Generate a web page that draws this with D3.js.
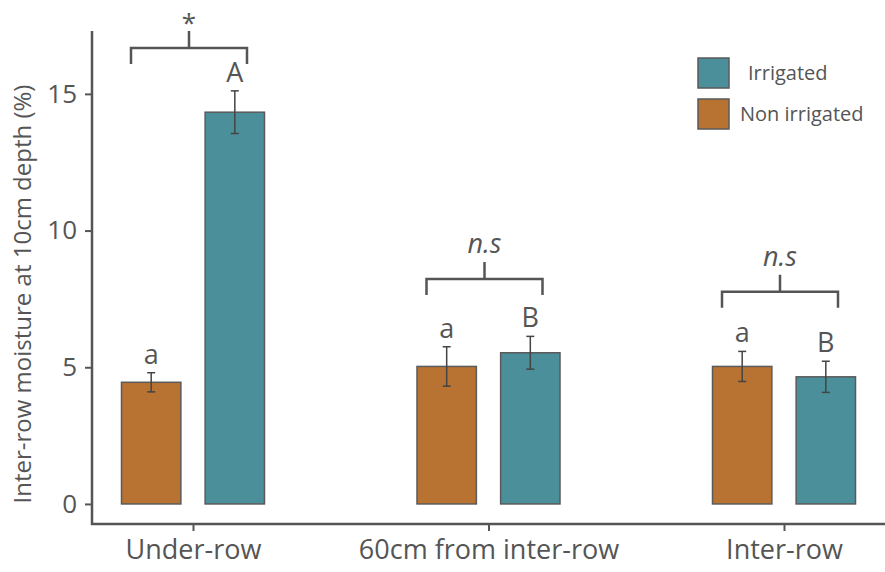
<!DOCTYPE html>
<html><head><meta charset="utf-8">
<script src="https://cdn.jsdelivr.net/npm/d3@7"></script>
<style>body{margin:0;background:#fff}svg{display:block}text{font-family:"Open Sans",sans-serif;fill:#555}</style>
</head><body><svg id="c" width="885" height="572"></svg>
<script>
const categories = ["Under-row", "60cm from inter-row", "Inter-row"];
const groups = ["Non irrigated", "Irrigated"];
const nonIrrigated = [4.45, 5.03, 5.03];
const nonIrrigatedErr = [0.35, 0.72, 0.55];
const irrigated = [14.33, 5.53, 4.65];
const irrigatedErr = [0.78, 0.6, 0.57];
const nonIrrigatedLetters = ["a", "a", "a"];
const irrigatedLetters = ["A", "B", "B"];
const significance = ["*", "n.s", "n.s"];
const bracketLevels = [16.68, 8.23, 7.76];
const yTicks = [0, 5, 10, 15];
const yTitle = "Inter-row moisture at 10cm depth (%)";
const colors = {"Non irrigated": "#B87333", "Irrigated": "#4A8F9A"};

const svg = d3.select("#c");
const stroke = "#555";
const y = d3.scaleLinear().domain([-0.77, 17.3]).range([525, 31]);
const x = d3.scalePoint().domain(categories).range([193, 784]);
const xs = d3.scaleBand().domain(groups).range([-71.5, 71.5]).paddingInner(0.29);

const series = {
  "Non irrigated": {v: nonIrrigated, e: nonIrrigatedErr, l: nonIrrigatedLetters},
  "Irrigated": {v: irrigated, e: irrigatedErr, l: irrigatedLetters}
};
const data = [];
categories.forEach((c, i) => groups.forEach(g => data.push({c, g, v: series[g].v[i], e: series[g].e[i], l: series[g].l[i]})));

// axes
const yAxis = d3.axisLeft(y).tickValues(yTicks).tickSize(7).tickPadding(8).tickSizeOuter(0);
const ga = svg.append("g").attr("transform", "translate(92,0)").call(yAxis);
ga.select(".domain").remove();
ga.selectAll("line").attr("stroke", stroke).attr("stroke-width", 2);
ga.selectAll("text").style("font-size", "26px").attr("fill", "#555");
svg.append("line").attr("x1", 92).attr("x2", 92).attr("y1", y.range()[1]).attr("y2", y.range()[0]).attr("stroke", stroke).attr("stroke-width", 2.5);

const xAxis = d3.axisBottom(x).tickSize(7).tickPadding(12).tickSizeOuter(0);
const gx = svg.append("g").attr("transform", "translate(0,524)").call(xAxis);
gx.select(".domain").remove();
gx.selectAll("line").attr("stroke", stroke).attr("stroke-width", 2);
gx.selectAll("text").style("font-size", "27px").attr("fill", "#555").attr("dy", "0.6em");
svg.append("line").attr("x1", 91).attr("x2", 885).attr("y1", 524).attr("y2", 524).attr("stroke", stroke).attr("stroke-width", 2.5);

// bars
const bars = svg.append("g");
bars.selectAll("rect").data(data).join("rect")
  .attr("x", d => x(d.c) + xs(d.g)).attr("width", xs.bandwidth())
  .attr("y", d => y(d.v)).attr("height", d => y(0) - y(d.v))
  .attr("fill", d => colors[d.g]).attr("stroke", "#5a5a5a").attr("stroke-width", 1.5);

// error bars
const eb = svg.append("g").attr("stroke", "#444").attr("stroke-width", 1.5);
data.forEach(d => {
  const cx = x(d.c) + xs(d.g) + xs.bandwidth() / 2;
  eb.append("line").attr("x1", cx).attr("x2", cx).attr("y1", y(d.v + d.e)).attr("y2", y(d.v - d.e));
  eb.append("line").attr("x1", cx - 4).attr("x2", cx + 4).attr("y1", y(d.v + d.e)).attr("y2", y(d.v + d.e));
  eb.append("line").attr("x1", cx - 4).attr("x2", cx + 4).attr("y1", y(d.v - d.e)).attr("y2", y(d.v - d.e));
  svg.append("text").attr("x", cx).attr("y", y(d.v + d.e) - 9).attr("text-anchor", "middle")
    .style("font-size", "27px").text(d.l);
});

// brackets
const br = svg.append("g").attr("stroke", stroke).attr("stroke-width", 2.5).attr("fill", "none");
categories.forEach((c, i) => {
  const cx = x(c) - 4, by = y(bracketLevels[i]);
  const x0 = cx - 58, x1 = cx + 58;
  br.append("path").attr("d", `M${x0},${by + 16}V${by}H${x1}V${by + 16}M${cx},${by}V${by - 17}`);
  svg.append("text").attr("x", cx).attr("y", by - (significance[i] === "*" ? 16 : 26))
    .attr("text-anchor", "middle").style("font-size", significance[i] === "*" ? "26px" : "27px")
    .style("font-style", significance[i] === "*" ? "normal" : "italic").text(significance[i]);
});

// legend
const lg = svg.append("g");
[["Irrigated", 58, 748], ["Non irrigated", 99, 740]].forEach(([g, ly, tx]) => {
  lg.append("rect").attr("x", 698).attr("y", ly).attr("width", 31).attr("height", 30)
    .attr("fill", colors[g]).attr("stroke", "#5a5a5a").attr("stroke-width", 1.5);
  lg.append("text").attr("x", tx).attr("y", ly + 15).attr("dy", "0.35em").style("font-size", "20px").text(g);
});

// y title
svg.append("text").attr("transform", "translate(31,294) rotate(-90)").attr("text-anchor", "middle")
  .style("font-size", "24px").text(yTitle);
</script></body></html>
